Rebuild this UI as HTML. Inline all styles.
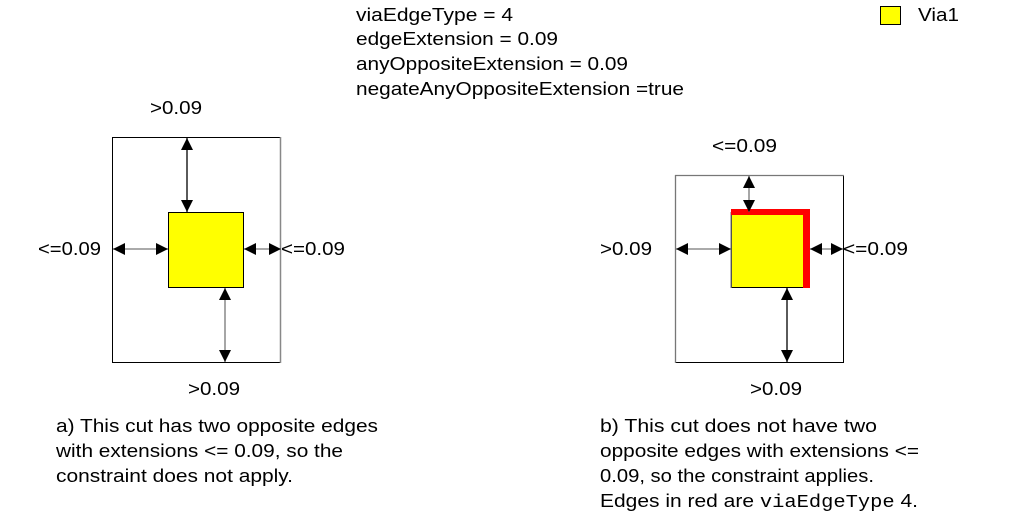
<!DOCTYPE html>
<html><head><meta charset="utf-8"><style>
html,body{margin:0;padding:0;background:#fff}
svg{display:block}
text{font-family:"Liberation Sans",Arial,sans-serif;font-size:18.5px;fill:#000}
.m{font-family:"Liberation Mono",monospace;font-size:18px}
</style></head><body>
<svg width="1013" height="522" viewBox="0 0 1013 522" xmlns="http://www.w3.org/2000/svg">
<defs>
<marker id="a" viewBox="0 0 10 10" refX="10" refY="5" markerWidth="12" markerHeight="12" markerUnits="userSpaceOnUse" orient="auto-start-reverse"><path d="M0,0 L10,5 L0,10 z" fill="#000"/></marker>
</defs>
<text x="356" y="21" textLength="157" lengthAdjust="spacingAndGlyphs">viaEdgeType = 4</text>
<text x="356" y="45" textLength="202" lengthAdjust="spacingAndGlyphs">edgeExtension = 0.09</text>
<text x="356" y="70" textLength="272" lengthAdjust="spacingAndGlyphs">anyOppositeExtension = 0.09</text>
<text x="356" y="95" textLength="328" lengthAdjust="spacingAndGlyphs">negateAnyOppositeExtension =true</text>
<rect x="880.5" y="6.5" width="20" height="18" fill="#ff0" stroke="#000"/>
<text x="918" y="21" textLength="41" lengthAdjust="spacingAndGlyphs">Via1</text>

<!-- left -->
<rect x="112.5" y="137.5" width="168" height="225" fill="none" stroke="#000"/>
<line x1="280.5" y1="137" x2="280.5" y2="363" stroke="#888" stroke-width="1.5"/>
<rect x="168.5" y="212.5" width="75" height="75" fill="#ff0" stroke="#000"/>
<line x1="187" y1="138" x2="187" y2="212" stroke="#000" stroke-width="1.3" marker-start="url(#a)" marker-end="url(#a)"/>
<line x1="113" y1="249" x2="168" y2="249" stroke="#777" stroke-width="1.3" marker-start="url(#a)" marker-end="url(#a)"/>
<line x1="244" y1="249" x2="281" y2="249" stroke="#777" stroke-width="1.3" marker-start="url(#a)" marker-end="url(#a)"/>
<line x1="225" y1="288" x2="225" y2="362" stroke="#777" stroke-width="1.3" marker-start="url(#a)" marker-end="url(#a)"/>
<text x="150" y="114" textLength="52" lengthAdjust="spacingAndGlyphs">&gt;0.09</text>
<text x="38" y="255" textLength="63" lengthAdjust="spacingAndGlyphs">&lt;=0.09</text>
<text x="281" y="255" textLength="64" lengthAdjust="spacingAndGlyphs">&lt;=0.09</text>
<text x="188" y="395" textLength="52" lengthAdjust="spacingAndGlyphs">&gt;0.09</text>
<text x="56" y="432" textLength="322" lengthAdjust="spacingAndGlyphs">a) This cut has two opposite edges</text>
<text x="56" y="457" textLength="287" lengthAdjust="spacingAndGlyphs">with extensions &lt;= 0.09, so the</text>
<text x="56" y="482" textLength="237" lengthAdjust="spacingAndGlyphs">constraint does not apply.</text>

<!-- right -->
<rect x="675.5" y="175.5" width="168" height="187" fill="none" stroke="#000"/>
<line x1="675" y1="175.5" x2="844" y2="175.5" stroke="#777" stroke-width="1.3"/>
<line x1="675.5" y1="175" x2="675.5" y2="363" stroke="#777" stroke-width="1.3"/>
<rect x="731.5" y="212.5" width="75" height="75" fill="#ff0" stroke="#000"/>
<line x1="731" y1="212" x2="731" y2="288" stroke="#888" stroke-width="1.2"/>
<rect x="731" y="209" width="76" height="6" fill="#f00"/>
<rect x="803" y="209" width="7" height="79" fill="#f00"/>
<line x1="749" y1="176" x2="749" y2="212" stroke="#777" stroke-width="1.3" marker-start="url(#a)" marker-end="url(#a)"/>
<line x1="676" y1="249" x2="731" y2="249" stroke="#777" stroke-width="1.3" marker-start="url(#a)" marker-end="url(#a)"/>
<line x1="810" y1="249" x2="843" y2="249" stroke="#777" stroke-width="1.3" marker-start="url(#a)" marker-end="url(#a)"/>
<line x1="787" y1="288" x2="787" y2="362" stroke="#000" stroke-width="1.3" marker-start="url(#a)" marker-end="url(#a)"/>
<text x="712" y="152" textLength="65" lengthAdjust="spacingAndGlyphs">&lt;=0.09</text>
<text x="600" y="255" textLength="52" lengthAdjust="spacingAndGlyphs">&gt;0.09</text>
<text x="843" y="255" textLength="65" lengthAdjust="spacingAndGlyphs">&lt;=0.09</text>
<text x="750" y="395" textLength="52" lengthAdjust="spacingAndGlyphs">&gt;0.09</text>
<text x="600" y="432" textLength="277" lengthAdjust="spacingAndGlyphs">b) This cut does not have two</text>
<text x="600" y="457" textLength="319" lengthAdjust="spacingAndGlyphs">opposite edges with extensions &lt;=</text>
<text x="600" y="482" textLength="274" lengthAdjust="spacingAndGlyphs">0.09, so the constraint applies.</text>
<text x="600" y="507" textLength="318" lengthAdjust="spacingAndGlyphs">Edges in red are <tspan class="m">viaEdgeType</tspan> 4.</text>
</svg>
</body></html>
